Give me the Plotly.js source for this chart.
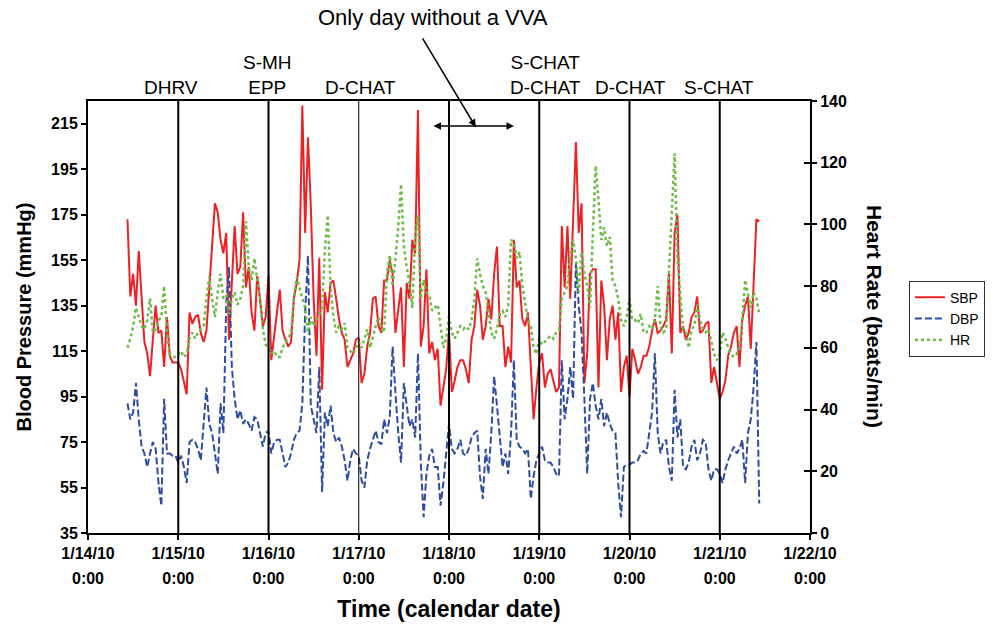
<!DOCTYPE html>
<html>
<head>
<meta charset="utf-8">
<script src="https://cdn.plot.ly/plotly-3.0.1.min.js"></script>
<style>html,body{margin:0;padding:0;background:#fff;}#chart{width:999px;height:626px;}</style>
</head>
<body>
<div id="chart"></div>
<script>
// Measurement times, hours after 1/14/10 0:00
const hours = [
  10.5, 11.25, 12, 12.75, 13.5, 14.25, 15, 15.75, 16.5, 17.25, 18, 18.75, 19.5, 20.25, 21, 21.75,
  22.5, 23.25, 24, 24.75, 25.5, 26.25, 27, 27.75, 28.5, 29.25, 30, 30.75, 31.5, 32.25, 33, 33.75,
  34.5, 35.25, 36, 36.75, 37.5, 38.25, 39, 39.75, 40.5, 41.25, 42, 42.75, 43.5, 44.25, 45, 45.75,
  46.5, 47.25, 48, 48.75, 49.5, 50.25, 51, 51.75, 52.5, 53.25, 54, 54.75, 55.5, 56.25, 57, 57.75,
  58.5, 59.25, 60, 60.75, 61.5, 62.25, 63, 63.75, 64.5, 65.25, 66, 66.75, 67.5, 68.25, 69, 69.75,
  70.5, 71.25, 72, 72.75, 73.5, 74.25, 75, 75.75, 76.5, 77.25, 78, 78.75, 79.5, 80.25, 81, 81.75,
  82.5, 83.25, 84, 84.75, 85.5, 86.25, 87, 87.75, 88.5, 89.25, 90, 90.75, 91.5, 92.25, 93, 93.75,
  94.5, 95.25, 96, 96.75, 97.5, 98.25, 99, 99.75, 100.5, 101.25, 102, 102.75, 103.5, 104.25, 105, 105.75,
  106.5, 107.25, 108, 108.75, 109.5, 110.25, 111, 111.75, 112.5, 113.25, 114, 114.75, 115.5, 116.25, 117, 117.75,
  118.5, 119.25, 120, 120.75, 121.5, 122.25, 123, 123.75, 124.5, 125.25, 126, 126.75, 127.5, 128.25, 129, 129.75,
  130.5, 131.25, 132, 132.75, 133.5, 134.25, 135, 135.75, 136.5, 137.25, 138, 138.75, 139.5, 140.25, 141, 141.75,
  142.5, 143.25, 144, 144.75, 145.5, 146.25, 147, 147.75, 148.5, 149.25, 150, 150.75, 151.5, 152.25, 153, 153.75,
  154.5, 155.25, 156, 156.75, 157.5, 158.25, 159, 159.75, 160.5, 161.25, 162, 162.75, 163.5, 164.25, 165, 165.75,
  166.5, 167.25, 168, 168.75, 169.5, 170.25, 171, 171.75, 172.5, 173.25, 174, 174.75, 175.5, 176.25, 177, 177.75,
  178.5
];

// Systolic blood pressure (mmHg)
const sbp = [
  173, 139, 149, 135, 159, 138, 119, 114, 104, 120, 135, 123, 124, 108, 130, 113,
  110, 110, 110, 107, 102, 96, 132, 127, 130, 131, 123, 119, 124, 143, 164, 180,
  176, 164, 158, 167, 120, 143, 170, 149, 152, 176, 143, 152, 132, 124, 148, 138,
  126, 130, 148, 111, 123, 132, 142, 124, 120, 117, 119, 138, 145, 155, 223, 167,
  209, 179, 138, 113, 156, 98, 141, 132, 145, 146, 138, 129, 123, 120, 108, 111,
  114, 120, 121, 101, 105, 117, 123, 138, 139, 126, 123, 146, 146, 155, 149, 123,
  132, 143, 108, 145, 138, 164, 158, 221, 117, 126, 151, 114, 119, 111, 116, 91,
  99, 107, 124, 97, 102, 108, 111, 111, 107, 101, 120, 126, 142, 135, 120, 126,
  138, 129, 149, 161, 126, 126, 108, 117, 110, 164, 143, 146, 129, 126, 132, 108,
  85, 99, 110, 114, 99, 105, 107, 102, 97, 99, 170, 143, 170, 138, 173, 207,
  167, 180, 101, 114, 149, 151, 151, 99, 146, 135, 111, 129, 135, 120, 132, 97,
  108, 113, 95, 116, 111, 105, 108, 113, 113, 117, 124, 129, 123, 124, 126, 129,
  149, 114, 167, 175, 123, 126, 120, 123, 130, 132, 139, 123, 124, 127, 128, 101,
  108, 101, 94, 97, 102, 113, 117, 123, 126, 108, 129, 135, 139, 116, 143, 173,
  172
];

// Diastolic blood pressure (mmHg)
const dbp = [
  92, 85, 88, 101, 85, 73, 70, 64, 70, 75, 72, 57, 47, 94, 70, 70,
  69, 69, 66, 69, 64, 57, 75, 76, 75, 72, 67, 85, 99, 83, 79, 70,
  61, 92, 79, 135, 152, 108, 94, 85, 89, 83, 85, 83, 80, 86, 85, 79,
  73, 79, 80, 70, 75, 76, 76, 70, 64, 66, 70, 76, 79, 80, 92, 132,
  157, 91, 85, 79, 108, 53, 88, 82, 91, 79, 75, 77, 73, 67, 58, 67,
  72, 70, 69, 58, 55, 67, 72, 76, 80, 75, 74, 85, 79, 86, 117, 97,
  79, 66, 101, 91, 82, 85, 77, 114, 66, 42, 61, 69, 72, 64, 64, 47,
  57, 70, 83, 72, 70, 72, 76, 70, 69, 72, 77, 79, 80, 60, 50, 72,
  61, 79, 104, 91, 76, 64, 70, 61, 79, 111, 76, 73, 72, 70, 72, 50,
  60, 67, 70, 73, 67, 66, 66, 64, 61, 60, 111, 85, 94, 108, 94, 154,
  135, 123, 94, 61, 94, 101, 91, 85, 94, 82, 88, 83, 80, 79, 57, 42,
  64, 65, 65, 66, 66, 67, 70, 71, 70, 79, 88, 114, 79, 70, 75, 76,
  64, 58, 98, 77, 85, 64, 63, 66, 73, 76, 67, 70, 76, 75, 63, 58,
  63, 63, 61, 57, 63, 67, 70, 73, 70, 72, 76, 57, 79, 85, 99, 119,
  48
];

// Heart rate (beats/min)
const hr = [
  60, 63, 67, 73, 70, 67, 66, 69, 76, 65, 66, 69, 70, 80, 65, 58,
  57, 57, 58, 59, 57, 58, 63, 65, 63, 65, 66, 67, 76, 83, 76, 70,
  78, 84, 76, 77, 71, 76, 78, 74, 76, 80, 101, 86, 82, 89, 82, 76,
  66, 61, 60, 58, 59, 57, 57, 60, 62, 63, 65, 76, 83, 79, 76, 73,
  65, 70, 67, 69, 71, 73, 92, 103, 80, 70, 65, 67, 66, 68, 60, 59,
  58, 60, 62, 60, 63, 66, 60, 64, 67, 70, 66, 65, 84, 90, 80, 89,
  99, 113, 93, 86, 81, 73, 96, 103, 76, 82, 78, 77, 72, 73, 74, 67,
  60, 63, 70, 65, 63, 65, 67, 66, 67, 66, 69, 76, 89, 84, 80, 78,
  71, 65, 63, 66, 71, 72, 70, 74, 95, 94, 89, 91, 80, 74, 69, 67,
  60, 58, 63, 61, 62, 63, 64, 63, 65, 66, 76, 78, 80, 90, 95, 89,
  78, 91, 84, 80, 73, 97, 119, 108, 95, 99, 93, 96, 82, 80, 76, 69,
  67, 70, 76, 69, 69, 68, 71, 65, 65, 67, 66, 69, 80, 67, 65, 66,
  86, 108, 123, 89, 76, 66, 65, 60, 66, 67, 74, 69, 66, 65, 66, 62,
  58, 56, 58, 65, 63, 60, 58, 57, 58, 60, 69, 82, 78, 73, 78, 76,
  71
];

const dayTicks = ['2010-01-14', '2010-01-15', '2010-01-16', '2010-01-17', '2010-01-18',
                  '2010-01-19', '2010-01-20', '2010-01-21', '2010-01-22'];
const dayLabels = ['1/14/10', '1/15/10', '1/16/10', '1/17/10', '1/18/10',
                   '1/19/10', '1/20/10', '1/21/10', '1/22/10'];
const timeLabels = ['0:00', '0:00', '0:00', '0:00', '0:00', '0:00', '0:00', '0:00', '0:00'];
const dividerDays = ['2010-01-15', '2010-01-16', '2010-01-17', '2010-01-18',
                     '2010-01-19', '2010-01-20', '2010-01-21'];
const thinDividers = ['2010-01-17'];

const seriesNames = ['SBP', 'DBP', 'HR'];

function toDate(h) {
  const d = new Date(Date.UTC(2010, 0, 14) + h * 3600000);
  return d.toISOString().slice(0, 16).replace('T', ' ');
}
const times = hours.map(toDate);

const FONT = 'Liberation Sans, Arial, Helvetica, sans-serif';
const tickFont = {family: FONT, size: 16, color: '#000', weight: 'bold'};

const traces = [
  {x: times, y: sbp, name: seriesNames[0], type: 'scatter', mode: 'lines',
   line: {color: '#EE2024', width: 2}, xaxis: 'x', yaxis: 'y'},
  {x: times, y: dbp, name: seriesNames[1], type: 'scatter', mode: 'lines',
   line: {color: '#2F4DA0', width: 2, dash: '7px,3px'}, xaxis: 'x', yaxis: 'y'},
  {x: times, y: hr, name: seriesNames[2], type: 'scatter', mode: 'lines',
   line: {color: '#6CBB45', width: 2.5, dash: 'dot'}, xaxis: 'x', yaxis: 'y2'},
  // invisible carriers so the helper axes (second tick-label row, inner right ticks) are drawn
  {x: times, y: sbp, type: 'scatter', mode: 'lines', opacity: 0, showlegend: false,
   hoverinfo: 'skip', line: {width: 0}, xaxis: 'x2', yaxis: 'y'},
  {x: times, y: hr, type: 'scatter', mode: 'lines', opacity: 0, showlegend: false,
   hoverinfo: 'skip', line: {width: 0}, xaxis: 'x', yaxis: 'y3'}
];

const xRange = [dayTicks[0], dayTicks[dayTicks.length - 1]];

const shapes = dividerDays.map(d => ({
  type: 'line', xref: 'x', yref: 'paper', x0: d, x1: d, y0: 0, y1: 1,
  layer: 'above',
  line: {color: '#000', width: thinDividers.includes(d) ? 1 : 2}
}));

const labelFont = {family: FONT, size: 19, color: '#000'};
const annotations = [
  {text: 'DHRV', x: 0.115, y: 1.032},
  {text: 'S-MH<br>EPP', x: 0.249, y: 1.060},
  {text: 'D-CHAT', x: 0.378, y: 1.032},
  {text: 'S-CHAT<br>D-CHAT', x: 0.634, y: 1.060},
  {text: 'D-CHAT', x: 0.752, y: 1.032},
  {text: 'S-CHAT', x: 0.874, y: 1.032}
].map(a => Object.assign({xref: 'paper', yref: 'paper', showarrow: false,
  xanchor: 'center', yanchor: 'middle', font: labelFont}, a));

annotations.push({
  text: 'Only day without a VVA', xref: 'paper', yref: 'paper', x: 0.478, y: 1.194,
  showarrow: false, xanchor: 'center', yanchor: 'middle',
  font: {family: FONT, size: 22, color: '#000'}
});
// diagonal pointer arrow
annotations.push({
  text: '', xref: 'paper', yref: 'paper', x: 0.537, y: 0.940,
  showarrow: true, ax: -54, ay: -90, arrowhead: 2, arrowsize: 1, arrowwidth: 1.5, arrowcolor: '#000'
});
// double-headed horizontal arrow
annotations.push({
  text: '', xref: 'paper', yref: 'paper', x: 0.590, y: 0.942,
  showarrow: true, ax: -82, ay: 0, arrowside: 'end+start', arrowhead: 2, startarrowhead: 2,
  arrowsize: 1, startarrowsize: 1, arrowwidth: 1.5, arrowcolor: '#000'
});
// right axis title (reads top-to-bottom)
annotations.push({
  text: 'Heart Rate (beats/min)', xref: 'paper', yref: 'paper', x: 1.090, y: 0.5,
  showarrow: false, textangle: 90, xanchor: 'center', yanchor: 'middle',
  font: {family: FONT, size: 21, color: '#000', weight: 'bold'}
});

const layout = {
  width: 999, height: 626,
  margin: {l: 88, r: 189, t: 101, b: 93, pad: 0},
  paper_bgcolor: '#fff', plot_bgcolor: '#fff',
  font: {family: FONT, color: '#000'},
  showlegend: true,
  legend: {x: 1.137, y: 0.584, xanchor: 'left', yanchor: 'top',
           bgcolor: '#fff', bordercolor: '#333', borderwidth: 1,
           font: {family: FONT, size: 14, color: '#000'}, tracegroupgap: 0},
  xaxis: {
    type: 'date', range: xRange, tickmode: 'array', tickvals: dayTicks, ticktext: dayLabels,
    ticks: 'outside', ticklen: 5, tickwidth: 2, tickcolor: '#000',
    showline: true, mirror: true, linecolor: '#000', linewidth: 2,
    showgrid: false, zeroline: false, tickfont: tickFont, automargin: false,
    title: {text: 'Time (calendar date)', font: {family: FONT, size: 23, weight: 'bold', color: '#000'}, standoff: 40}
  },
  xaxis2: {
    type: 'date', range: xRange, overlaying: 'x', anchor: 'y', side: 'bottom',
    tickmode: 'array', tickvals: dayTicks, ticktext: timeLabels,
    ticks: 'outside', ticklen: 5, tickcolor: 'rgba(0,0,0,0)', ticklabelstandoff: 26,
    showline: false, showgrid: false, zeroline: false, tickfont: tickFont, automargin: false
  },
  yaxis: {
    range: [35, 225], tick0: 35, dtick: 20, tickmode: 'linear',
    ticks: 'outside', ticklen: 5, tickwidth: 2, tickcolor: '#000',
    showline: true, mirror: true, linecolor: '#000', linewidth: 2,
    showgrid: false, zeroline: false, tickfont: tickFont, automargin: false,
    title: {text: 'Blood Pressure (mmHg)', font: {family: FONT, size: 20, weight: 'bold', color: '#000'}, standoff: 14}
  },
  yaxis2: {
    range: [0, 140], tick0: 0, dtick: 20, tickmode: 'linear', overlaying: 'y', side: 'right', anchor: 'x',
    ticks: 'outside', ticklen: 6, tickwidth: 2, tickcolor: '#000',
    showline: false, showgrid: false, zeroline: false, tickfont: tickFont, automargin: false
  },
  yaxis3: {
    range: [0, 140], tick0: 0, dtick: 20, tickmode: 'linear', overlaying: 'y', side: 'right', anchor: 'x',
    ticks: 'inside', ticklen: 6, tickwidth: 2, tickcolor: '#000', showticklabels: false,
    showline: false, showgrid: false, zeroline: false, automargin: false
  },
  shapes: shapes,
  annotations: annotations
};

Plotly.newPlot('chart', traces, layout, {displayModeBar: false, staticPlot: true});
</script>
</body>
</html>
